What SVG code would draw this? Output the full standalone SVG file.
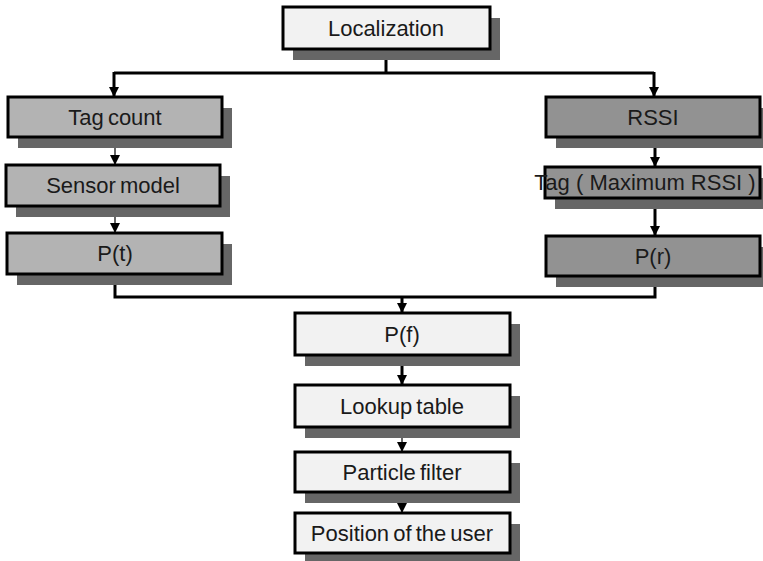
<svg xmlns="http://www.w3.org/2000/svg" width="763" height="561" viewBox="0 0 763 561">
  <style>
    .shadow { fill: #666666; }
    .box { stroke: #000000; stroke-width: 3; }
    .light { fill: #f2f2f2; }
    .mid { fill: #b3b3b3; }
    .dark { fill: #929292; }
    .label { font-family: "Liberation Sans", Arial, sans-serif; font-size: 22px; fill: #1a1a1a; text-anchor: middle; word-spacing: -2px; }
    .thick { stroke: #000000; stroke-width: 3; fill: none; }
    .thin { stroke: #000000; stroke-width: 1.2; fill: none; }
  </style>
  <defs>
    <marker id="head" markerUnits="userSpaceOnUse" markerWidth="12" markerHeight="10" refX="10" refY="5" orient="auto">
      <polygon points="0,0 10,5 0,10" fill="#000000"/>
    </marker>
  </defs>
  <rect width="763" height="561" fill="#ffffff"/>

  <!-- connectors -->
  <g id="connectors">
    <polyline class="thick" points="386,49 386,73"/>
    <polyline class="thick" points="114,73 654,73"/>
    <line class="thick" x1="114" y1="72" x2="114" y2="97" marker-end="url(#head)"/>
    <line class="thick" x1="654" y1="72" x2="654" y2="97" marker-end="url(#head)"/>
    <line class="thin" x1="115" y1="137" x2="115" y2="165" marker-end="url(#head)"/>
    <line class="thin" x1="115" y1="206" x2="115" y2="233" marker-end="url(#head)"/>
    <line class="thick" x1="655" y1="137" x2="655" y2="167" marker-end="url(#head)"/>
    <line class="thick" x1="655" y1="198" x2="655" y2="236" marker-end="url(#head)"/>
    <polyline class="thick" points="115,274 115,297 655,297 655,276"/>
    <line class="thick" x1="402" y1="296" x2="402" y2="313" marker-end="url(#head)"/>
    <line class="thick" x1="402" y1="355" x2="402" y2="385" marker-end="url(#head)"/>
    <line class="thin" x1="402" y1="427" x2="402" y2="452" marker-end="url(#head)"/>
    <line class="thin" x1="402" y1="492" x2="402" y2="513" marker-end="url(#head)"/>
  </g>

  <g id="localization">
    <rect class="shadow" x="293" y="18" width="207" height="42"/>
    <rect class="box light" x="283" y="7" width="207" height="42"/>
    <text class="label" x="386" y="36">Localization</text>
  </g>

  <g id="tag-count">
    <rect class="shadow" x="18" y="108" width="214" height="40"/>
    <rect class="box mid" x="8" y="97" width="214" height="40"/>
    <text class="label" x="115" y="125">Tag count</text>
  </g>

  <g id="sensor-model">
    <rect class="shadow" x="16" y="176" width="214" height="41"/>
    <rect class="box mid" x="6" y="165" width="214" height="41"/>
    <text class="label" x="113" y="193">Sensor model</text>
  </g>

  <g id="p-t">
    <rect class="shadow" x="17" y="244" width="215" height="41"/>
    <rect class="box mid" x="7" y="233" width="215" height="41"/>
    <text class="label" x="115" y="261">P(t)</text>
  </g>

  <g id="rssi">
    <rect class="shadow" x="556" y="108" width="214" height="40"/>
    <rect class="box dark" x="546" y="97" width="214" height="40"/>
    <text class="label" x="653" y="125">RSSI</text>
  </g>

  <g id="tag-max-rssi">
    <rect class="shadow" x="555" y="178" width="215" height="31"/>
    <rect class="box dark" x="545" y="167" width="215" height="31"/>
    <text class="label" x="645" y="190" style="word-spacing:0">Tag ( Maximum RSSI )</text>
  </g>

  <g id="p-r">
    <rect class="shadow" x="556" y="247" width="214" height="40"/>
    <rect class="box dark" x="546" y="236" width="214" height="40"/>
    <text class="label" x="653" y="264">P(r)</text>
  </g>

  <g id="p-f">
    <rect class="shadow" x="305" y="324" width="215" height="42"/>
    <rect class="box light" x="295" y="313" width="215" height="42"/>
    <text class="label" x="402" y="342">P(f)</text>
  </g>

  <g id="lookup-table">
    <rect class="shadow" x="305" y="396" width="215" height="42"/>
    <rect class="box light" x="295" y="385" width="215" height="42"/>
    <text class="label" x="402" y="414">Lookup table</text>
  </g>

  <g id="particle-filter">
    <rect class="shadow" x="305" y="463" width="215" height="40"/>
    <rect class="box light" x="295" y="452" width="215" height="40"/>
    <text class="label" x="402" y="480">Particle filter</text>
  </g>

  <g id="position-of-the-user">
    <rect class="shadow" x="305" y="524" width="215" height="40"/>
    <rect class="box light" x="295" y="513" width="215" height="40"/>
    <text class="label" x="402" y="541">Position of the user</text>
  </g>
</svg>
